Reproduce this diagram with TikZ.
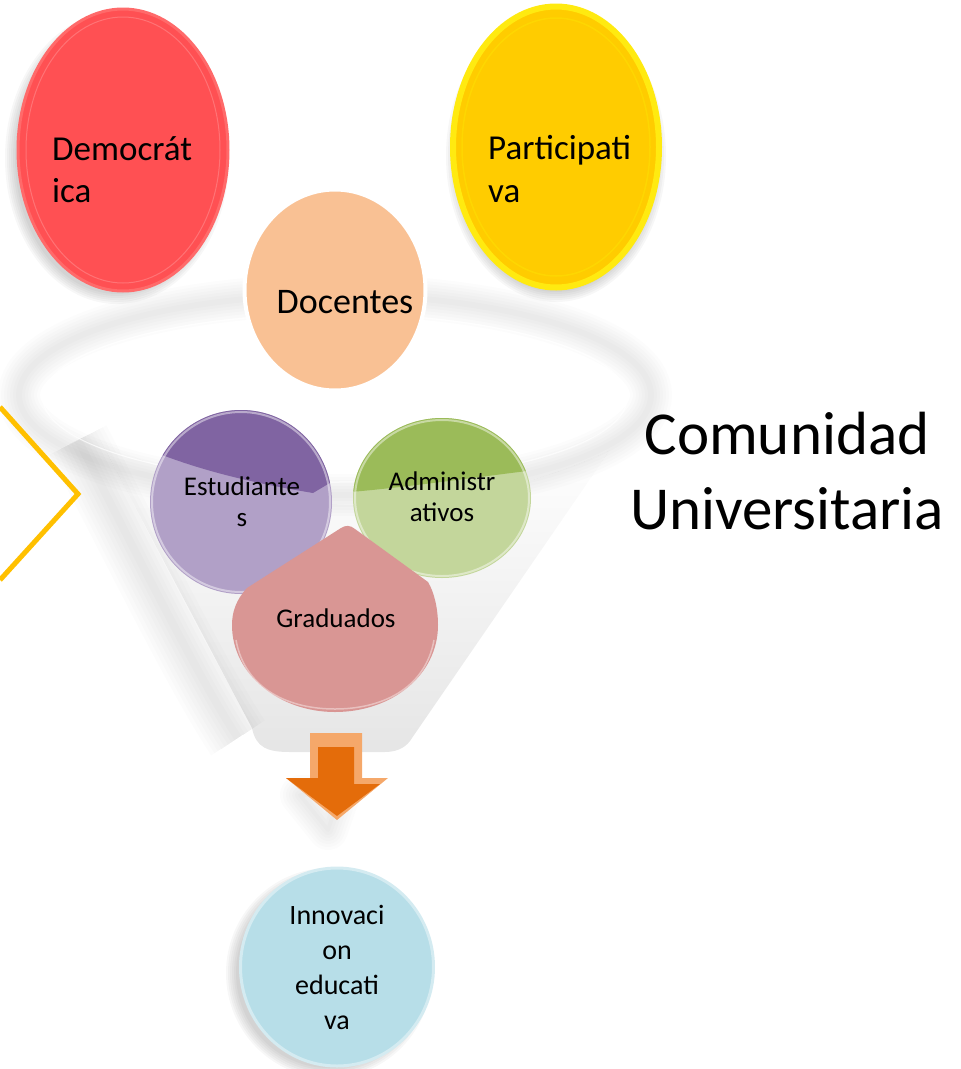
\documentclass[tikz,border=0pt]{standalone}
\usepackage{fontspec}
\setmainfont{Carlito}
\usetikzlibrary{shapes.geometric,positioning}

\definecolor{rojo}{HTML}{FF5053}
\definecolor{rojoborde}{HTML}{FF6A6A}
\definecolor{amarillo}{HTML}{FFCC00}
\definecolor{amarilloborde}{HTML}{FFEA10}
\definecolor{durazno}{HTML}{F9C194}
\definecolor{moradooscuro}{HTML}{8064A2}
\definecolor{moradoclaro}{HTML}{B1A0C7}
\definecolor{verdeoscuro}{HTML}{9BBB59}
\definecolor{verdeclaro}{HTML}{C3D69B}
\definecolor{rosa}{HTML}{D99694}
\definecolor{naranja}{HTML}{E46C0A}
\definecolor{naranjaclaro}{HTML}{F5A86A}
\definecolor{celeste}{HTML}{B7DEE8}
\definecolor{oro}{HTML}{FFC000}

\newcommand{\tam}[2]{\fontsize{#1}{#2}\selectfont}

\tikzset{
  bola/.style={ellipse, inner sep=0pt, outer sep=0pt},
  rotulo/.style={inner sep=0pt, text=black},
  sombra/.style={black, opacity=0.03},
  humo/.style={black, opacity=0.012}
}

\begin{document}
\begin{tikzpicture}[x=1pt,y=-1pt]
  \useasboundingbox (0,0) rectangle (961,1069);

  % embudo
  \shade[top color=white, bottom color=gray!20] (100,440) -- (252,728) .. controls (256,748) and (268,752) .. (290,752)
     -- (385,752) .. controls (400,752) and (408,745) .. (412,738)
     -- (610,450) .. controls (450,525) and (260,525) .. (100,440) -- cycle;
  \foreach \w in {8,16,...,64}
    \draw[humo, line width=\w] (78,440) .. controls (150,580) and (200,680) .. (238,738);
  \foreach \w in {6,12,...,42}
    \draw[humo, line width=\w] (335,395) ellipse [x radius=316, y radius=100];
  \draw[white, opacity=0.7, line width=1] (335,398) ellipse [x radius=292, y radius=84];

  % flecha amarilla cortada
  \draw[oro, line width=5] (0,407) -- (78,494) -- (0,580);

  % bolas de arriba
  \foreach \k in {0,...,5}
    \fill[sombra] (117,158) ellipse [x radius=112-\k*2, y radius=146-\k*2];
  \node[bola, fill=rojo, draw=rojoborde, line width=3, minimum width=210, minimum height=282] (democ) at (123,150) {};
  \draw[white, opacity=0.2, line width=1] (democ.center) ellipse [x radius=97, y radius=133];
  \node[rotulo, font=\tam{35}{42}, align=left, anchor=west] (democtxt) at (52,170) {Democrát\\ica};

  \foreach \k in {0,...,5}
    \fill[sombra] (556,156) ellipse [x radius=110-\k*2, y radius=146-\k*2];
  \node[bola, fill=amarillo, draw=amarilloborde, line width=6, minimum width=206, minimum height=281] (partic) at (556,147) {};
  \draw[yellow!60!amarillo, opacity=0.5, line width=1.5] (partic.center) ellipse [x radius=94, y radius=129];
  \node[rotulo, font=\tam{35}{43}, align=left, anchor=west] (partictxt) at (488,169) {Participati\\va};

  \node[bola, fill=durazno, draw=white, line width=4, minimum width=181, minimum height=201] (docen) at (335,290) {};
  \node[rotulo, font=\tam{36}{43}, anchor=base] (docentxt) at (345,313) {Docentes};

  % bolas del embudo
  \node[bola, fill=moradoclaro, minimum width=182, minimum height=184] (estud) at (241,502) {};
  \begin{scope}
    \clip (estud.center) ellipse [x radius=91, y radius=92];
    \fill[moradooscuro] (140,400) -- (345,400) -- (345,474) -- (313,493)
      .. controls (260,484) and (200,472) .. (140,446) -- cycle;
  \end{scope}
  \draw[white, opacity=0.45, line width=2] (estud.center) ellipse [x radius=89, y radius=90];
  \node[rotulo, font=\tam{27}{31}, align=center] (estudtxt) at (242,502) {Estudiante\\s};

  \node[bola, fill=verdeclaro, minimum width=178, minimum height=160] (admin) at (442,498) {};
  \begin{scope}
    \clip (admin.center) ellipse [x radius=89, y radius=80];
    \fill[verdeoscuro] (350,400) -- (535,400) -- (535,470)
      .. controls (470,478) and (400,488) .. (350,492) -- cycle;
  \end{scope}
  \draw[white, opacity=0.45, line width=2] (admin.center) ellipse [x radius=87, y radius=78];
  \node[rotulo, font=\tam{27}{31}, align=center] (admintxt) at (442,497) {Administr\\ativos};

  \fill[rosa] (341,528) .. controls (346,525) and (350,525) .. (355,529)
     -- (428,582) .. controls (434,592) and (438,608) .. (438,625)
     .. controls (438,675) and (392,712) .. (335,712)
     .. controls (280,712) and (232,675) .. (232,625)
     .. controls (232,612) and (236,600) .. (247,588) -- cycle;
  \draw[white, opacity=0.4, line width=1.5] (236,640) .. controls (245,690) and (290,709) .. (335,709)
     .. controls (380,709) and (425,690) .. (434,640);
  \node[rotulo, font=\tam{27}{31}, anchor=base] (grad) at (336,627) {Graduados};

  % flecha naranja
  \foreach \w in {4,10,...,40}
    \draw[humo, line width=\w, line join=round] (300,795) -- (340,795) -- (328,830) -- cycle;
  \fill[naranjaclaro] (310,733) -- (362,733) -- (362,778) -- (388,778) -- (337,820) -- (286,778) -- (310,778) -- cycle;
  \fill[naranja] (318,747) -- (354,747) -- (354,784) -- (380,784) -- (337,816) -- (286,778) -- (318,778) -- cycle;

  % resultado
  \foreach \k in {0,...,5}
    \fill[sombra] (329,973) ellipse [x radius=103-\k*2, y radius=105-\k*2];
  \node[bola, fill=celeste, draw=celeste!60!white, line width=3, minimum width=193, minimum height=198] (innov) at (337,967) {};
  \node[rotulo, font=\tam{28}{35}, align=center] (innovtxt) at (337,967) {Innovaci\\on\\educati\\va};

  % titulo
  \node[rotulo, font=\tam{61}{75}, align=center] (comu) at (787,471) {Comunidad\\Universitaria};
\end{tikzpicture}
\end{document}
